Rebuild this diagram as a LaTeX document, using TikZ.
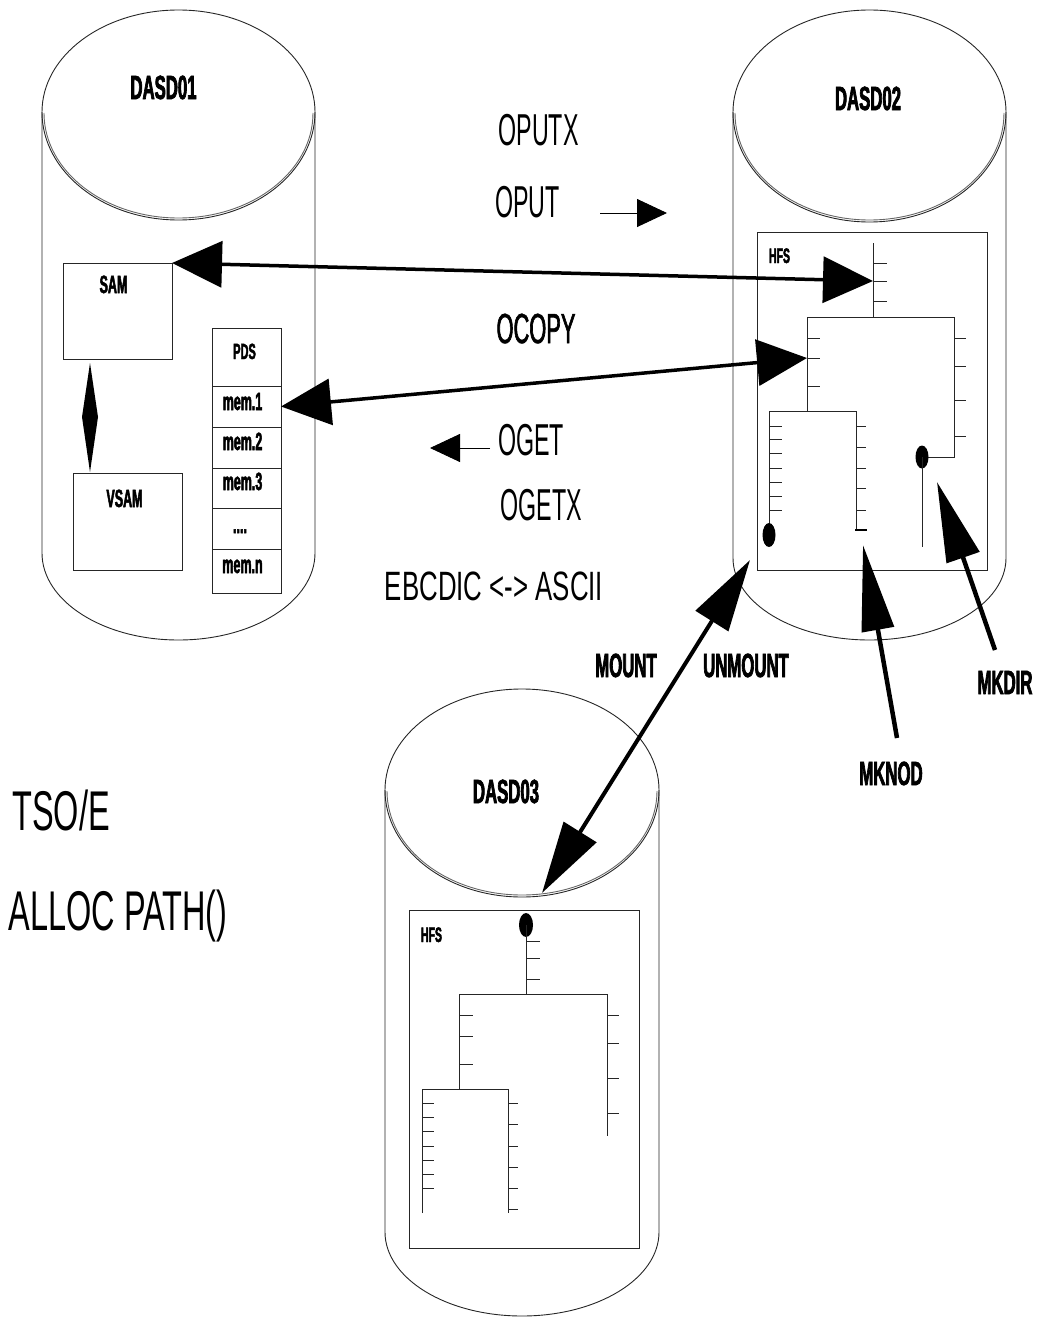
\documentclass[tikz,border=0pt]{standalone}
\usepackage{fontspec}
\setmainfont{Liberation Sans}
\newfontfamily\thinf[FakeStretch=0.52]{Liberation Sans}
\newfontfamily\widef[FakeStretch=0.58]{Liberation Sans}
\newfontfamily\ebcf[FakeStretch=0.63]{Liberation Sans}
\newfontfamily\condf[FakeStretch=0.5,FakeBold=2]{Liberation Sans}
\newfontfamily\medf[FakeStretch=0.52,FakeBold=1.5]{Liberation Sans}
\usetikzlibrary{arrows.meta}
\newcommand\Tsz[1]{\fontsize{#1}{#1}\selectfont}
\tikzset{
  ln/.style={line width=0.9pt, black!85},
  lbl/.style={inner sep=0pt, anchor=base},
  thinlbl/.style={lbl, font=\thinf\Tsz{44.7}},
  boldlbl/.style={lbl, font=\condf\bfseries\Tsz{33.5}},
  smalllbl/.style={lbl, font=\condf\bfseries\Tsz{25}},
  box/.style={draw, ln, inner sep=0pt, outer sep=0pt},
  fatarrow/.style={line width=3.5pt, {Triangle[length=50pt,width=46pt]}-{Triangle[length=50pt,width=46pt]}},
  longarrow/.style={line width=4.5pt, -{Triangle[length=86pt,width=32pt]}},
  mountarrow/.style={line width=4pt, {Triangle[length=72pt,width=38pt]}-{Triangle[length=72pt,width=38pt]}},
  smallarrow/.style={ln, black, -{Triangle[length=30pt,width=28pt]}},
}
\begin{document}
\begin{tikzpicture}[x=1pt,y=-1pt]
\useasboundingbox (0,0) rectangle (1037,1317);

% ---------- Cylinder DASD01 ----------
\draw[ln] (42,112) arc[start angle=180,end angle=0,x radius=136.5pt,y radius=102pt];
\draw[ln] (42,112) arc[start angle=180,end angle=360,x radius=136.5pt,y radius=108pt];
\draw[ln,black!60] (44,113) arc[start angle=180,end angle=360,x radius=134.5pt,y radius=105pt];
\draw[ln] (42,112) -- (42,553) arc[start angle=180,end angle=360,x radius=136.5pt,y radius=87pt] -- (315,112);

% ---------- Cylinder DASD02 ----------
\draw[ln] (733,112) arc[start angle=180,end angle=0,x radius=136.5pt,y radius=102pt];
\draw[ln] (733,112) arc[start angle=180,end angle=360,x radius=136.5pt,y radius=110pt];
\draw[ln,black!60] (735,113) arc[start angle=180,end angle=360,x radius=134.5pt,y radius=107pt];
\draw[ln] (733,112) -- (733,558) arc[start angle=180,end angle=360,x radius=136.5pt,y radius=82pt] -- (1006,112);

% ---------- Cylinder DASD03 ----------
\draw[ln] (385,790) arc[start angle=180,end angle=0,x radius=137pt,y radius=101pt];
\draw[ln] (385,790) arc[start angle=180,end angle=360,x radius=137pt,y radius=107pt];
\draw[ln,black!60] (387,791) arc[start angle=180,end angle=360,x radius=135pt,y radius=104pt];
\draw[ln] (385,790) -- (385,1232) arc[start angle=180,end angle=360,x radius=137pt,y radius=84pt] -- (659,790);

% ---------- Titles ----------
\node[boldlbl] (d1) at (163.5,99) {DASD01};
\node[boldlbl] (d2) at (868,110) {DASD02};
\node[boldlbl] (d3) at (506,803) {DASD03};

% ---------- DASD01 contents ----------
\node[box, minimum width=109pt, minimum height=96pt] (sam) at (117.5,311) {};
\node[smalllbl] (samt) at (113.5,293) {SAM};
\node[box, minimum width=109pt, minimum height=97pt] (vsam) at (127.5,521.5) {};
\node[smalllbl] (vsamt) at (124.5,507) {VSAM};
\node[box, minimum width=69pt, minimum height=58pt] (pds) at (246.5,357) {};
\node[box, minimum width=69pt, minimum height=41pt] (mem1) at (246.5,406.5) {};
\node[box, minimum width=69pt, minimum height=41pt] (mem2) at (246.5,447.5) {};
\node[box, minimum width=69pt, minimum height=40pt] (mem3) at (246.5,488) {};
\node[box, minimum width=69pt, minimum height=41pt] (memd) at (246.5,528.5) {};
\node[box, minimum width=69pt, minimum height=44pt] (memn) at (246.5,571) {};
\node[smalllbl,font=\condf\bfseries\Tsz{22}] at (244.5,359) {PDS};
\node[smalllbl] at (242.5,410) {mem.1};
\node[smalllbl] at (242.5,450) {mem.2};
\node[smalllbl] at (242.5,490) {mem.3};
\node[smalllbl] at (240,533) {....};
\node[smalllbl] at (242.5,573) {mem.n};
\coordinate (dtop) at (90,363);
\coordinate (dbot) at (90,472);
\fill (dtop) -- (98,417) -- (dbot) -- (82,417) -- cycle;

% ---------- DASD02 HFS ----------
\node[box, minimum width=230pt, minimum height=338pt] (hfs2) at (872,401) {};
\node[lbl,font=\condf\bfseries\Tsz{21}] at (779.5,263) {HFS};
\draw[ln] (873,243)--(873,317);
\foreach \y in {263,281,301} \draw[ln] (873,\y)--(887,\y);
\coordinate (root2) at (873,281);
\coordinate (lvl2) at (807,358);
\draw[ln] (807,411)--(807,317)--(954,317)--(954,457)--(922,457);
\foreach \y in {338,358,386} \draw[ln] (807,\y)--(820,\y);
\foreach \y in {338,366,400,436} \draw[ln] (954,\y)--(966,\y);
\fill (922,457) ellipse[x radius=6.5pt,y radius=11.5pt];
\draw[ln] (922,457)--(922,547);
\draw[ln] (769,535)--(769,411)--(856,411)--(856,530);
\foreach \y in {426,439,453,468,482,496,510} \draw[ln] (769,\y)--(782,\y);
\foreach \y in {426,447,468,488,510} \draw[ln] (856,\y)--(866,\y);
\draw[line width=2.5pt] (855,530)--(867,530);
\fill (769,535) ellipse[x radius=6.5pt,y radius=12pt];

% ---------- DASD03 HFS ----------
\node[box, minimum width=230pt, minimum height=338pt] (hfs3) at (524,1079) {};
\node[lbl,font=\condf\bfseries\Tsz{21}] at (431.5,942) {HFS};
\fill (526,925) ellipse[x radius=7pt,y radius=12pt];
\draw[ln] (526,925)--(526,994);
\foreach \y in {941,958,979} \draw[ln] (526,\y)--(540,\y);
\draw[ln] (459,1089)--(459,994)--(607,994)--(607,1136);
\foreach \y in {1015,1036,1064} \draw[ln] (459,\y)--(473,\y);
\foreach \y in {1015,1043,1078,1113} \draw[ln] (607,\y)--(619,\y);
\draw[ln] (422,1213)--(422,1089)--(508,1089)--(508,1213);
\foreach \y in {1103,1117,1131,1146,1160,1174,1188} \draw[ln] (422,\y)--(434,\y);
\foreach \y in {1103,1124,1146,1167,1188,1209} \draw[ln] (508,\y)--(518,\y);

% ---------- Middle texts ----------
\node[thinlbl] (oputx) at (538.5,145) {OPUTX};
\node[thinlbl] (oput) at (527.5,217) {OPUT};
\node[lbl,font=\medf\Tsz{42}] (ocopy) at (536,343) {OCOPY};
\node[thinlbl] (oget) at (531,455) {OGET};
\node[thinlbl] (ogetx) at (541.5,520) {OGETX};
\node[lbl,font=\ebcf\Tsz{41}] (ebc) at (494,600) {EBCDIC <-> ASCII};
\coordinate (oputs) at (600,213);
\coordinate (opute) at (667,213);
\draw[smallarrow] (oputs) -- (opute);
\coordinate (ogets) at (490,448);
\coordinate (ogete) at (430,448);
\draw[smallarrow] (ogets) -- (ogete);

% ---------- Big arrows ----------
\draw[fatarrow] (sam.north east) -- (root2);
\draw[fatarrow] (mem1.east) -- (lvl2);

\coordinate (mtop) at (750,560);
\coordinate (mbot) at (542,893);
\draw[mountarrow] (mbot) -- (mtop);
\node[boldlbl] (mount) at (626,677) {MOUNT};
\node[boldlbl] (unmount) at (746,677) {UNMOUNT};

\coordinate (mknodtail) at (897,738);
\coordinate (mknodtip) at (863,545);
\draw[longarrow] (mknodtail) -- (mknodtip);
\node[boldlbl] (mknod) at (891,785) {MKNOD};

\coordinate (mkdirtail) at (995,650);
\coordinate (mkdirtip) at (937,482);
\draw[longarrow,-{Triangle[length=80pt,width=34pt]}] (mkdirtail) -- (mkdirtip);
\node[boldlbl] (mkdir) at (1005,694) {MKDIR};

% ---------- TSO/E ----------
\node[lbl,font=\widef\Tsz{56}] (tso) at (61,830) {TSO/E};
\node[lbl,font=\widef\Tsz{56}] (alloc) at (118,930) {ALLOC PATH()};
\end{tikzpicture}
\end{document}
